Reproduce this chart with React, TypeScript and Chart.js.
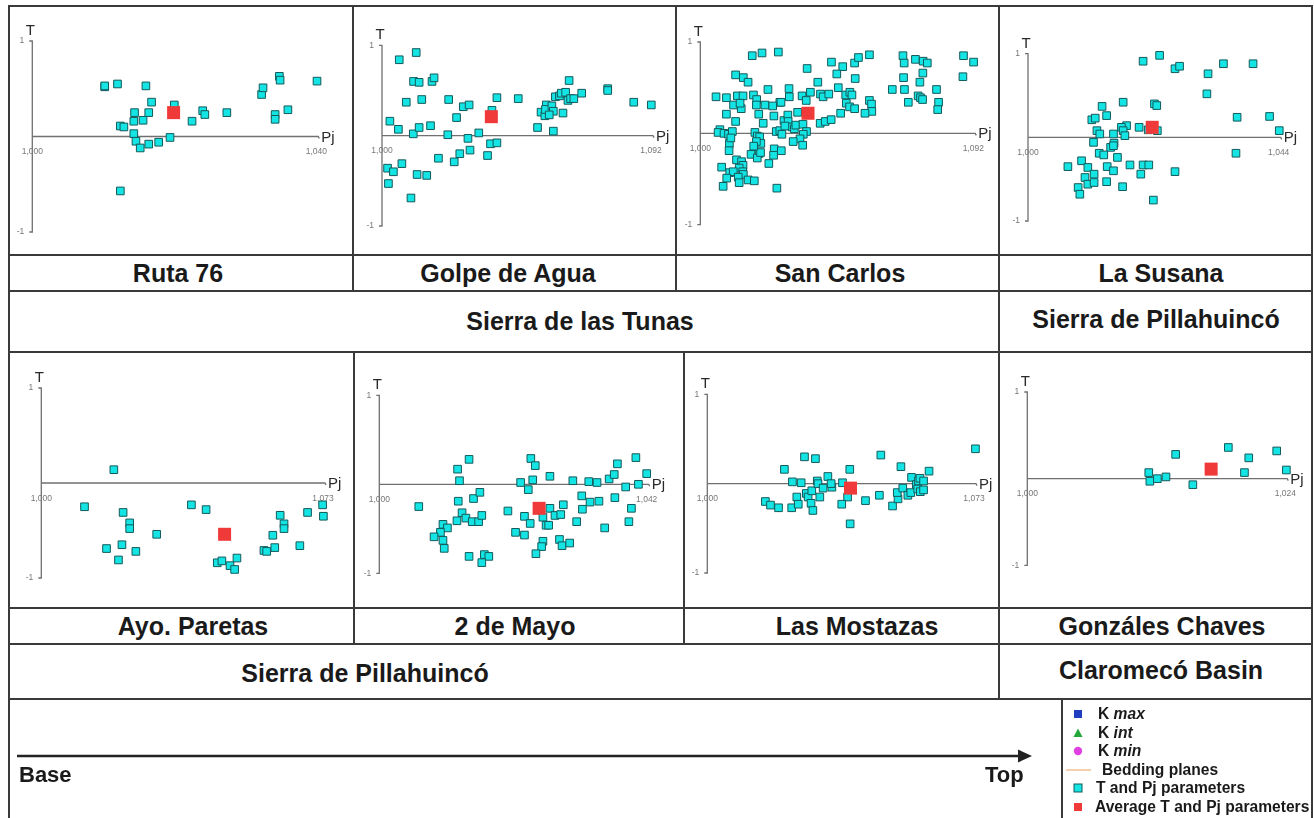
import React, { useEffect, useRef } from "react";
import { Chart, registerables } from "chart.js";

Chart.register(...registerables);

// ---------------- DATA ----------------
const panelNames = ["Ruta 76", "Golpe de Agua", "San Carlos", "La Susana", "Ayo. Paretas", "2 de Mayo", "Las Mostazas", "Gonzáles Chaves"];
const pjMaxValues = [1.04, 1.092, 1.092, 1.044, 1.073, 1.042, 1.073, 1.024];
const pjMaxLabels = ["1,040", "1,092", "1,092", "1,044", "1,073", "1,042", "1,073", "1,024"];
const pjMinLabel = "1,000";
const tTickLabels = ["1", "-1"];
const groupNames = ["Sierra de las Tunas", "Sierra de Pillahuincó", "Sierra de Pillahuincó", "Claromecó Basin"];

const ruta76Pj = [1.0102, 1.0102, 1.0120, 1.0160, 1.0168, 1.0164, 1.0144, 1.0143, 1.0156, 1.0124, 1.0129, 1.0143, 1.0146, 1.0152, 1.0164, 1.0178, 1.0194, 1.0200, 1.0225, 1.0240, 1.0243, 1.0274, 1.0323, 1.0325, 1.0342, 1.0342, 1.0348, 1.0349, 1.0360, 1.0401, 1.0124];
const ruta76T = [0.52, 0.53, 0.55, 0.53, 0.36, 0.25, 0.25, 0.16, 0.17, 0.11, 0.10, 0.03, -0.05, -0.12, -0.08, -0.06, -0.01, 0.33, 0.16, 0.27, 0.23, 0.25, 0.44, 0.51, 0.23, 0.18, 0.63, 0.59, 0.28, 0.58, -0.57];
const ruta76Avg = [1.0199, 0.25];

const golpePj = [1.0059, 1.0117, 1.0108, 1.0127, 1.0171, 1.0178, 1.0083, 1.0136, 1.0228, 1.0278, 1.0298, 1.0255, 1.0027, 1.0056, 1.0107, 1.0127, 1.0166, 1.0225, 1.0294, 1.0331, 1.0376, 1.0393, 1.0466, 1.0371, 1.0393, 1.0361, 1.0301, 1.0266, 1.0247, 1.0193, 1.0068, 1.0019, 1.0039, 1.0022, 1.0120, 1.0153, 1.0099, 1.0532, 1.0586, 1.0544, 1.0557, 1.0562, 1.0559, 1.0581, 1.0586, 1.0572, 1.0619, 1.0593, 1.0607, 1.0613, 1.0628, 1.0636, 1.0645, 1.0656, 1.0640, 1.0683, 1.0772, 1.0772, 1.0861, 1.0921];
const golpeT = [0.84, 0.92, 0.60, 0.59, 0.60, 0.64, 0.37, 0.40, 0.40, 0.32, 0.34, 0.20, 0.16, 0.07, 0.02, 0.09, 0.11, 0.01, -0.03, 0.03, 0.28, 0.42, 0.41, -0.09, -0.08, -0.22, -0.16, -0.20, -0.29, -0.25, -0.31, -0.36, -0.40, -0.53, -0.43, -0.44, -0.69, 0.09, 0.05, 0.26, 0.22, 0.34, 0.29, 0.33, 0.27, 0.23, 0.25, 0.43, 0.44, 0.47, 0.48, 0.39, 0.41, 0.41, 0.61, 0.47, 0.52, 0.50, 0.37, 0.34];
const golpeAvg = [1.0374, 0.21];

const sanCarlosPj = [1.0175, 1.0208, 1.0263, 1.0360, 1.0442, 1.0480, 1.0520, 1.0533, 1.0570, 1.0460, 1.0522, 1.0683, 1.0687, 1.0725, 1.0751, 1.0765, 1.0887, 1.0921, 1.0885, 1.0685, 1.0750, 1.0740, 1.0647, 1.0688, 1.0796, 1.0701, 1.0734, 1.0742, 1.0749, 1.0803, 1.0800, 1.0119, 1.0145, 1.0161, 1.0228, 1.0299, 1.0300, 1.0268, 1.0396, 1.0371, 1.0343, 1.0357, 1.0405, 1.0414, 1.0433, 1.0465, 1.0490, 1.0504, 1.0511, 1.0492, 1.0503, 1.0520, 1.0570, 1.0577, 1.0578, 1.0555, 1.0473, 1.0053, 1.0088, 1.0125, 1.0144, 1.0179, 1.0190, 1.0189, 1.0112, 1.0138, 1.0197, 1.0218, 1.0244, 1.0248, 1.0272, 1.0088, 1.0282, 1.0295, 1.0296, 1.0328, 1.0404, 1.0421, 1.0441, 1.0212, 1.0119, 1.0066, 1.0060, 1.0080, 1.0095, 1.0108, 1.0184, 1.0192, 1.0200, 1.0204, 1.0256, 1.0268, 1.0275, 1.0309, 1.0317, 1.0322, 1.0346, 1.0358, 1.0347, 1.0336, 1.0313, 1.0345, 1.0098, 1.0097, 1.0171, 1.0198, 1.0192, 1.0203, 1.0249, 1.0273, 1.0247, 1.0231, 1.0122, 1.0139, 1.0144, 1.0131, 1.0072, 1.0099, 1.0111, 1.0143, 1.0145, 1.0089, 1.0128, 1.0161, 1.0182, 1.0077, 1.0131, 1.0258, 1.0103, 1.0189, 1.0180, 1.0285, 1.0134];
const sanCarlosT = [0.85, 0.88, 0.89, 0.71, 0.78, 0.73, 0.77, 0.83, 0.86, 0.65, 0.60, 0.85, 0.77, 0.81, 0.79, 0.77, 0.85, 0.78, 0.62, 0.61, 0.66, 0.56, 0.48, 0.48, 0.48, 0.34, 0.41, 0.39, 0.37, 0.34, 0.26, 0.64, 0.61, 0.56, 0.48, 0.49, 0.40, 0.34, 0.56, 0.45, 0.41, 0.36, 0.43, 0.40, 0.43, 0.50, 0.42, 0.45, 0.42, 0.33, 0.29, 0.27, 0.36, 0.32, 0.24, 0.22, 0.22, 0.40, 0.39, 0.41, 0.41, 0.42, 0.37, 0.31, 0.31, 0.27, 0.21, 0.31, 0.30, 0.19, 0.34, 0.21, 0.14, 0.20, 0.13, 0.23, 0.11, 0.13, 0.15, 0.11, 0.13, 0.04, 0.01, 0.00, -0.01, 0.02, 0.01, -0.03, -0.04, -0.11, 0.02, 0.03, -0.01, 0.07, 0.05, 0.09, 0.10, 0.02, -0.01, -0.06, -0.09, -0.13, -0.11, -0.19, -0.23, -0.22, -0.27, -0.21, -0.17, -0.19, -0.24, -0.33, -0.29, -0.31, -0.35, -0.38, -0.37, -0.43, -0.42, -0.42, -0.45, -0.49, -0.48, -0.51, -0.52, -0.58, -0.54, -0.60, -0.05, -0.09, -0.14, 0.08, 0.33];
const sanCarlosAvg = [1.0363, 0.22];

const susanaPj = [1.0202, 1.0231, 1.0258, 1.0266, 1.0316, 1.0343, 1.0395, 1.0314, 1.0367, 1.0424, 1.0441, 1.0365, 1.0258, 1.0220, 1.0167, 1.0222, 1.0226, 1.0130, 1.0138, 1.0112, 1.0118, 1.0173, 1.0164, 1.0195, 1.0211, 1.0227, 1.0121, 1.0126, 1.0150, 1.0167, 1.0170, 1.0115, 1.0151, 1.0145, 1.0150, 1.0125, 1.0133, 1.0157, 1.0094, 1.0105, 1.0070, 1.0139, 1.0150, 1.0179, 1.0202, 1.0212, 1.0198, 1.0116, 1.0100, 1.0105, 1.0116, 1.0138, 1.0166, 1.0088, 1.0091];
const susanaT = [0.91, 0.98, 0.82, 0.85, 0.76, 0.88, 0.88, 0.52, 0.24, 0.25, 0.08, -0.19, -0.41, -0.75, 0.42, 0.40, 0.38, 0.37, 0.26, 0.21, 0.23, 0.14, 0.12, 0.12, 0.09, 0.08, 0.08, 0.04, 0.04, 0.08, 0.02, -0.06, -0.07, -0.12, -0.10, -0.19, -0.21, -0.24, -0.28, -0.36, -0.35, -0.35, -0.40, -0.33, -0.33, -0.33, -0.44, -0.44, -0.48, -0.56, -0.54, -0.53, -0.59, -0.60, -0.68];
const susanaAvg = [1.0218, 0.12];

const paretasPj = [1.0188, 1.0112, 1.0212, 1.0229, 1.0229, 1.0299, 1.0169, 1.0209, 1.0245, 1.0200, 1.0389, 1.0427, 1.0456, 1.0468, 1.0489, 1.0507, 1.0501, 1.0577, 1.0584, 1.0605, 1.0600, 1.0619, 1.0629, 1.0629, 1.0670, 1.0690, 1.0729, 1.0731];
const paretasT = [0.14, -0.25, -0.31, -0.42, -0.48, -0.54, -0.69, -0.65, -0.72, -0.81, -0.23, -0.28, -0.84, -0.82, -0.87, -0.79, -0.91, -0.71, -0.72, -0.68, -0.55, -0.34, -0.43, -0.48, -0.66, -0.31, -0.23, -0.35];
const paretasAvg = [1.0475, -0.54];

const mayoPj = [1.0062, 1.0141, 1.0123, 1.0126, 1.0124, 1.0148, 1.0158, 1.0130, 1.0122, 1.0136, 1.0146, 1.0156, 1.0161, 1.0100, 1.0107, 1.0096, 1.0086, 1.0100, 1.0102, 1.0141, 1.0165, 1.0172, 1.0161, 1.0238, 1.0245, 1.0222, 1.0241, 1.0234, 1.0268, 1.0202, 1.0228, 1.0237, 1.0214, 1.0228, 1.0257, 1.0268, 1.0262, 1.0266, 1.0276, 1.0285, 1.0289, 1.0257, 1.0255, 1.0246, 1.0283, 1.0287, 1.0299, 1.0310, 1.0304, 1.0318, 1.0319, 1.0329, 1.0331, 1.0342, 1.0345, 1.0354, 1.0361, 1.0369, 1.0374, 1.0370, 1.0387, 1.0396, 1.0392, 1.0403, 1.0407, 1.0420];
const mayoT = [-0.25, 0.28, 0.17, 0.04, -0.19, -0.16, -0.09, -0.32, -0.41, -0.38, -0.42, -0.42, -0.35, -0.45, -0.49, -0.54, -0.59, -0.63, -0.72, -0.81, -0.79, -0.81, -0.88, 0.29, 0.21, 0.02, 0.05, -0.06, 0.09, -0.30, -0.36, -0.44, -0.54, -0.57, -0.37, -0.27, -0.46, -0.46, -0.35, -0.34, -0.23, -0.64, -0.70, -0.78, -0.62, -0.69, -0.66, -0.42, 0.04, -0.13, -0.28, 0.03, -0.20, 0.02, -0.19, -0.49, 0.06, 0.11, 0.23, -0.15, -0.03, -0.27, -0.42, 0.30, 0.00, 0.12];
const mayoAvg = [1.0251, -0.27];

const mostazasPj = [1.0159, 1.0173, 1.0195, 1.0211, 1.0231, 1.0233, 1.0257, 1.0245, 1.0249, 1.0266, 1.0296, 1.0271, 1.0276, 1.0286, 1.0284, 1.0289, 1.0301, 1.0303, 1.0308, 1.0317, 1.0330, 1.0341, 1.0339, 1.0370, 1.0390, 1.0384, 1.0368, 1.0391, 1.0433, 1.0471, 1.0475, 1.0530, 1.0507, 1.0522, 1.0520, 1.0535, 1.0549, 1.0557, 1.0559, 1.0572, 1.0578, 1.0582, 1.0576, 1.0583, 1.0592, 1.0592, 1.0607, 1.0734];
const mostazasT = [-0.20, -0.24, -0.27, 0.16, -0.27, 0.02, 0.01, -0.15, -0.23, 0.30, 0.28, -0.11, -0.15, -0.08, -0.22, -0.30, 0.03, 0.00, -0.15, -0.05, 0.08, -0.04, 0.00, 0.01, 0.16, -0.15, -0.23, -0.45, -0.19, -0.13, 0.32, 0.19, -0.25, -0.17, -0.10, -0.05, -0.13, -0.10, 0.07, -0.01, 0.03, 0.06, -0.06, -0.09, 0.03, -0.07, 0.14, 0.39];
const mostazasAvg = [1.0392, -0.05];

const chavesPj = [1.0113, 1.0114, 1.0121, 1.0129, 1.0138, 1.0154, 1.0187, 1.0202, 1.0206, 1.0232, 1.0241];
const chavesT = [0.07, -0.03, 0.00, 0.02, 0.28, -0.07, 0.36, 0.07, 0.24, 0.32, 0.10];
const chavesAvg = [1.0171, 0.11];

const seriesPj = [ruta76Pj, golpePj, sanCarlosPj, susanaPj, paretasPj, mayoPj, mostazasPj, chavesPj];
const seriesT = [ruta76T, golpeT, sanCarlosT, susanaT, paretasT, mayoT, mostazasT, chavesT];
const seriesAvg = [ruta76Avg, golpeAvg, sanCarlosAvg, susanaAvg, paretasAvg, mayoAvg, mostazasAvg, chavesAvg];

const legendLabels = ["K ", "K ", "K ", "Bedding planes", "T and Pj parameters", "Average T and Pj parameters"];
const legendItalic = ["max", "int", "min", "", "", ""];

// ---------------- LAYOUT ----------------
const FONT = '"Liberation Sans", Arial, Helvetica, sans-serif';
const CYAN = "#14e4e4";
const CYAN_EDGE = "#145a5a";
const RED = "#f03a3a";
const LINE = "#3a3a3a";

type Box = { cx: number; cy: number; cw: number; ch: number; x0: number; x1: number; yt: number; yb: number };
const panelBoxes: Box[] = [
  { cx: 9, cy: 7, cw: 343, ch: 247, x0: 32.3, x1: 316.3, yt: 41, yb: 232 },
  { cx: 354, cy: 7, cw: 320, ch: 247, x0: 382, x1: 651, yt: 45.3, yb: 226 },
  { cx: 677, cy: 7, cw: 321, ch: 247, x0: 700.3, x1: 973.3, yt: 42, yb: 224.7 },
  { cx: 1000, cy: 7, cw: 312, ch: 247, x0: 1028, x1: 1278.7, yt: 53.7, yb: 221 },
  { cx: 9, cy: 353, cw: 344, ch: 254, x0: 41.3, x1: 323, yt: 388, yb: 578 },
  { cx: 355, cy: 353, cw: 327, ch: 254, x0: 379.3, x1: 646.7, yt: 395.3, yb: 573.3 },
  { cx: 685, cy: 353, cw: 313, ch: 254, x0: 707.3, x1: 974, yt: 394.3, yb: 573 },
  { cx: 1000, cy: 353, cw: 312, ch: 254, x0: 1027.3, x1: 1285.3, yt: 392, yb: 565.3 },
];
const panelLabelPos = [
  [178, 273], [508, 273], [840, 273], [1161, 273],
  [193, 626], [515, 626], [857, 626], [1162, 626],
];
const groupLabelPos = [[580, 321], [1156, 319], [365, 673], [1161, 670]];

const axesPlugin = {
  id: "tpjAxes",
  beforeDatasetsDraw(chart: any, _args: any, opts: any) {
    const ctx = chart.ctx;
    const xs = chart.scales.x;
    const ys = chart.scales.y;
    const x0 = xs.getPixelForValue(xs.min);
    const x1 = xs.getPixelForValue(xs.max);
    const yt = ys.getPixelForValue(1);
    const yb = ys.getPixelForValue(-1);
    const y0 = ys.getPixelForValue(0);
    ctx.save();
    ctx.strokeStyle = "#707070";
    ctx.lineWidth = 1.3;
    ctx.beginPath();
    ctx.moveTo(x0 - 3, yt);
    ctx.lineTo(x0, yt);
    ctx.lineTo(x0, yb);
    ctx.lineTo(x0 - 3, yb);
    ctx.moveTo(x0, y0);
    ctx.lineTo(x1 + 2, y0);
    ctx.lineTo(x1 + 3, y0 + 2);
    ctx.stroke();

    ctx.fillStyle = "#2a2a2a";
    ctx.font = `15px ${FONT}`;
    ctx.textAlign = "center";
    ctx.textBaseline = "alphabetic";
    ctx.fillText("T", x0 - 2, yt - 6);
    ctx.textAlign = "left";
    ctx.fillText("Pj", x1 + 5, y0 + 5);

    ctx.fillStyle = "#777";
    ctx.font = `8.5px ${FONT}`;
    ctx.textAlign = "right";
    ctx.textBaseline = "middle";
    ctx.fillText(tTickLabels[0], x0 - 8, yt);
    ctx.fillText(tTickLabels[1], x0 - 8, yb);
    ctx.textAlign = "center";
    ctx.textBaseline = "top";
    ctx.fillText(pjMinLabel, x0, y0 + 11);
    ctx.fillText(opts.maxLabel, x1, y0 + 11);
    ctx.restore();
  },
};

function Panel({ idx }: { idx: number }) {
  const ref = useRef<HTMLCanvasElement>(null);
  const b = panelBoxes[idx];
  useEffect(() => {
    const pts = seriesPj[idx].map((p, i) => ({ x: p, y: seriesT[idx][i] }));
    const avg = seriesAvg[idx];
    const chart = new Chart(ref.current as HTMLCanvasElement, {
      type: "scatter",
      data: {
        datasets: [
          {
            label: "Average T and Pj parameters",
            data: [{ x: avg[0], y: avg[1] }],
            pointStyle: "rect",
            pointRadius: 9.2,
            backgroundColor: RED,
            borderColor: RED,
            borderWidth: 0,
            order: 0,
            clip: false,
          } as any,
          {
            label: "T and Pj parameters",
            data: pts,
            pointStyle: "rect",
            pointRadius: 5.4,
            backgroundColor: CYAN,
            borderColor: CYAN_EDGE,
            borderWidth: 1,
            order: 1,
            clip: false,
          } as any,
        ],
      },
      options: {
        animation: false,
        responsive: false,
        devicePixelRatio: 1,
        events: [],
        layout: {
          padding: {
            left: b.x0 - b.cx,
            right: b.cx + b.cw - b.x1,
            top: b.yt - b.cy,
            bottom: b.cy + b.ch - b.yb,
          },
        },
        scales: {
          x: { type: "linear", min: 1.0, max: pjMaxValues[idx], display: false },
          y: { type: "linear", min: -1, max: 1, display: false },
        },
        plugins: {
          legend: { display: false },
          tooltip: { enabled: false },
          tpjAxes: { maxLabel: pjMaxLabels[idx] },
        } as any,
      },
      plugins: [axesPlugin],
    });
    return () => chart.destroy();
  }, [idx]);
  return (
    <canvas
      ref={ref}
      width={b.cw}
      height={b.ch}
      style={{ position: "absolute", left: b.cx, top: b.cy, width: b.cw, height: b.ch }}
    />
  );
}

function HLine({ y, x1, x2 }: { y: number; x1: number; x2: number }) {
  return <div style={{ position: "absolute", left: x1, top: y - 1, width: x2 - x1, height: 2, background: LINE }} />;
}
function VLine({ x, y1, y2 }: { x: number; y1: number; y2: number }) {
  return <div style={{ position: "absolute", left: x - 1, top: y1, width: 2, height: y2 - y1, background: LINE }} />;
}

function Label({ text, x, y, size }: { text: string; x: number; y: number; size: number }) {
  return (
    <div
      style={{
        position: "absolute",
        left: x,
        top: y,
        transform: "translate(-50%, -50%)",
        fontFamily: FONT,
        fontWeight: "bold",
        fontSize: size,
        lineHeight: 1,
        whiteSpace: "nowrap",
        color: "#1a1a1a",
      }}
    >
      {text}
    </div>
  );
}

function LegendMarker({ i }: { i: number }) {
  if (i === 0) return <rect x={4} y={4} width={8} height={8} fill="#1f3fc0" />;
  if (i === 1) return <polygon points="8,3.5 12.5,12 3.5,12" fill="#22a838" />;
  if (i === 2) return <circle cx={8} cy={8} r={4.2} fill="#e040e0" />;
  if (i === 3) return <line x1={-4} y1={8} x2={21} y2={8} stroke="#f2c090" strokeWidth={1.5} />;
  if (i === 4) return <rect x={4} y={4} width={8} height={8} fill={CYAN} stroke={CYAN_EDGE} strokeWidth={1} />;
  return <rect x={4} y={4} width={8} height={8} fill={RED} />;
}

const legendY = [714, 733, 751, 770, 788, 807];
const legendTextX = [1098, 1098, 1098, 1102, 1096, 1095];

export default function App() {
  return (
    <div
      style={{
        position: "absolute",
        left: 0,
        top: 0,
        width: 1314,
        height: 818,
        background: "#fff",
        overflow: "hidden",
        fontFamily: FONT,
      }}
    >
      {panelBoxes.map((_, i) => (
        <Panel key={i} idx={i} />
      ))}

      {/* grid lines */}
      <HLine y={6} x1={8} x2={1313} />
      <HLine y={255} x1={8} x2={1313} />
      <HLine y={291} x1={8} x2={1313} />
      <HLine y={352} x1={8} x2={1313} />
      <HLine y={608} x1={8} x2={1313} />
      <HLine y={644} x1={8} x2={1313} />
      <HLine y={699} x1={8} x2={1313} />
      <VLine x={9} y1={5} y2={818} />
      <VLine x={1312} y1={5} y2={818} />
      <VLine x={353} y1={5} y2={291} />
      <VLine x={675.5} y1={5} y2={291} />
      <VLine x={999} y1={5} y2={699} />
      <VLine x={354} y1={352} y2={644} />
      <VLine x={683.5} y1={352} y2={644} />
      <VLine x={1062} y1={699} y2={818} />

      {panelNames.map((n, i) => (
        <Label key={n + i} text={n} x={panelLabelPos[i][0]} y={panelLabelPos[i][1]} size={25} />
      ))}
      {groupNames.map((n, i) => (
        <Label key={"g" + i} text={n} x={groupLabelPos[i][0]} y={groupLabelPos[i][1]} size={25} />
      ))}

      {/* Base -> Top arrow */}
      <svg style={{ position: "absolute", left: 0, top: 700 }} width={1060} height={118}>
        <line x1={17} y1={56} x2={1022} y2={56} stroke="#222" strokeWidth={2.5} />
        <polygon points="1018,49.5 1032,56 1018,62.5" fill="#222" />
      </svg>
      <div style={{ position: "absolute", left: 19, top: 764, fontFamily: FONT, fontWeight: "bold", fontSize: 22, lineHeight: 1, color: "#1a1a1a" }}>Base</div>
      <div style={{ position: "absolute", left: 985, top: 764, fontFamily: FONT, fontWeight: "bold", fontSize: 22, lineHeight: 1, color: "#1a1a1a" }}>Top</div>

      {/* legend */}
      {legendLabels.map((t, i) => (
        <React.Fragment key={"l" + i}>
          <svg style={{ position: "absolute", left: 1070, top: legendY[i] - 8, overflow: "visible" }} width={16} height={16}>
            <LegendMarker i={i} />
          </svg>
          <div
            style={{
              position: "absolute",
              left: legendTextX[i],
              top: legendY[i],
              transform: "translateY(-50%)",
              fontFamily: FONT,
              fontWeight: "bold",
              fontSize: 15.6,
              lineHeight: 1,
              whiteSpace: "nowrap",
              color: "#1a1a1a",
            }}
          >
            {t}
            {legendItalic[i] ? <i>{legendItalic[i]}</i> : null}
          </div>
        </React.Fragment>
      ))}
    </div>
  );
}
